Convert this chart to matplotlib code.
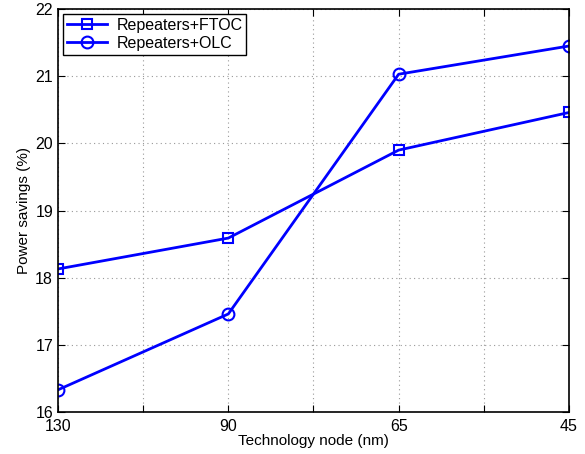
import numpy as np
import matplotlib.pyplot as plt

plt.rcParams['font.family'] = ['Liberation Sans', 'DejaVu Sans']

nodes = ['130', '90', '65', '45']
ftoc = [18.13, 18.59, 19.90, 20.46]
olc = [16.33, 17.46, 21.03, 21.45]

x = np.arange(1, len(nodes) + 1)

fig = plt.figure(figsize=(5.85, 4.54), dpi=100)
ax = fig.add_axes([0.0991, 0.0925, 0.8735, 0.8875])

ax.plot(x, ftoc, color='#0000ff', lw=2, marker='s', ms=6.5, mfc='none', mew=1.5,
        label='Repeaters+FTOC')
ax.plot(x, olc, color='#0000ff', lw=2, marker='o', ms=8.5, mfc='none', mew=1.5,
        label='Repeaters+OLC')

ax.set_xlim(1, 4)
ax.set_ylim(16, 22)
ticks = np.arange(1, 4.01, 0.5)
ax.set_xticks(ticks)
ax.set_xticklabels(['130', '', '90', '', '65', '', '45'])
ax.set_yticks(np.arange(16, 22.1, 1))

ax.tick_params(direction='in', top=True, right=True, labelsize=11.5, length=5, width=0.8)
ax.tick_params(axis='x', pad=5)
ax.grid(True, linestyle=(0, (1, 3)), color='#999999', linewidth=0.8)
for s in ax.spines.values():
    s.set_linewidth(1.2)

ax.set_xlabel('Technology node (nm)', fontsize=11, labelpad=0)
ax.set_ylabel('Power savings (%)', fontsize=11, labelpad=3)

leg = ax.legend(loc='upper left', fontsize=11.5, fancybox=False, framealpha=1,
                edgecolor='black', borderaxespad=0.3, handlelength=2.5,
                borderpad=0.25, labelspacing=0.2, handletextpad=0.6)
leg.get_frame().set_linewidth(1.0)

fig.savefig('out.png', dpi=100)
